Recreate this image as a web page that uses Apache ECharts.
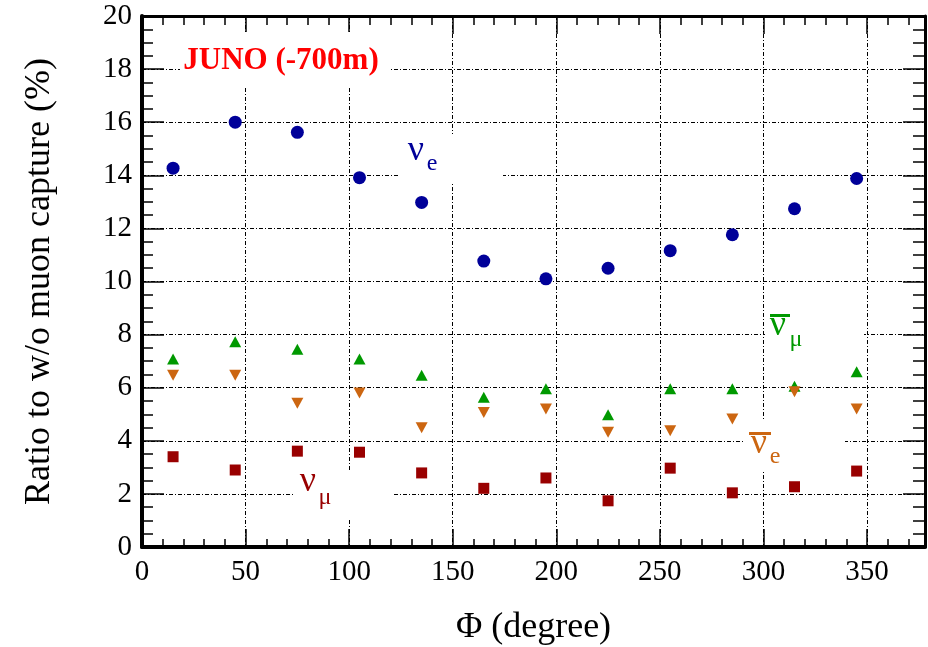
<!DOCTYPE html>
<html><head><meta charset="utf-8">
<script src="https://cdn.jsdelivr.net/npm/echarts@6/dist/echarts.min.js"></script>
<style>html,body{margin:0;padding:0;background:#fff}#c{width:928px;height:647px}</style>
</head><body><div id="c"></div><script>
const phi = [15, 45, 75, 105, 135, 165, 195, 225, 255, 285, 315, 345];
const nuE = [14.27, 16.0, 15.62, 13.91, 12.98, 10.77, 10.10, 10.50, 11.16, 11.76, 12.74, 13.88];
const antiNuMu = [7.08, 7.73, 7.45, 7.08, 6.47, 5.64, 5.96, 4.98, 5.96, 5.96, 6.05, 6.60];
const antiNuE = [6.47, 6.47, 5.41, 5.80, 4.49, 5.07, 5.20, 4.32, 4.38, 4.82, 5.85, 5.20];
const nuMu = [3.40, 2.90, 3.61, 3.57, 2.79, 2.21, 2.60, 1.74, 2.97, 2.04, 2.27, 2.86];
const xName = 'Φ (degree)';
const yName = 'Ratio to w/o muon capture (%)';
const title = 'JUNO (-700m)';

const FF = 'Liberation Serif';
const pair = (xs, ys) => xs.map((x, i) => [x, ys[i]]);
const grid = '#000';
const baseAxis = {
  type: 'value',
  axisLine: { show: true, onZero: false, lineStyle: { color: '#000', width: 3 } },
  axisTick: { show: true, inside: true, lineStyle: { color: '#000', width: 1.5 } },
  minorTick: { show: true, lineStyle: { color: '#000', width: 1.5 } },
  splitLine: { show: false },
  axisLabel: { show: false }
};
const mainLine = { show: true, onZero: false, lineStyle: { color: '#000', width: 4 } };
const chart = echarts.init(document.getElementById('c'));
chart.setOption({
  backgroundColor: '#fff',
  animation: false,
  textStyle: { fontFamily: FF },
  grid: { left: 142, top: 16, right: 3, bottom: 100, containLabel: false, outerBoundsMode: 'none' },
  xAxis: [
    Object.assign({}, baseAxis, {
      min: 0, max: 378, interval: 50, position: 'bottom',
      axisLine: mainLine,
      axisTick: Object.assign({}, baseAxis.axisTick, { length: 18 }),
      minorTick: Object.assign({}, baseAxis.minorTick, { splitNumber: 5, length: 8 }),
      axisLabel: { show: true, color: '#000', fontFamily: FF, fontSize: 29, margin: 11, showMaxLabel: false },
      splitLine: { show: true, lineStyle: { color: grid, width: 1, type: [4, 2, 1, 2] } },
      name: xName, nameLocation: 'middle', nameGap: 63,
      nameTextStyle: { color: '#000', fontFamily: FF, fontSize: 36 }
    }),
    Object.assign({}, baseAxis, {
      min: 0, max: 378, interval: 50, position: 'top',
      axisTick: Object.assign({}, baseAxis.axisTick, { length: 18 }),
      minorTick: Object.assign({}, baseAxis.minorTick, { splitNumber: 5, length: 9 })
    })
  ],
  yAxis: [
    Object.assign({}, baseAxis, {
      min: 0, max: 20, interval: 2, position: 'left',
      axisLine: mainLine,
      axisTick: Object.assign({}, baseAxis.axisTick, { length: 22 }),
      minorTick: Object.assign({}, baseAxis.minorTick, { splitNumber: 4, length: 11 }),
      axisLabel: { show: true, color: '#000', fontFamily: FF, fontSize: 29, margin: 10, padding: [4, 0, 0, 0] },
      splitLine: { show: true, lineStyle: { color: grid, width: 1, type: [4, 2, 1, 2] } },
      name: yName, nameLocation: 'middle', nameGap: 84,
      nameTextStyle: { color: '#000', fontFamily: FF, fontSize: 36 }
    }),
    Object.assign({}, baseAxis, {
      min: 0, max: 20, interval: 2, position: 'right',
      axisTick: Object.assign({}, baseAxis.axisTick, { length: 22 }),
      minorTick: Object.assign({}, baseAxis.minorTick, { splitNumber: 4, length: 12 })
    })
  ],
  series: [
    { type: 'scatter', name: 'nu_e', data: pair(phi, nuE), symbol: 'circle', symbolSize: 13,
      itemStyle: { color: '#000099', opacity: 1 }, z: 5 },
    { type: 'scatter', name: 'anti_nu_mu', data: pair(phi, antiNuMu), symbol: 'triangle', symbolSize: [12, 11],
      itemStyle: { color: '#009900', opacity: 1 }, z: 5 },
    { type: 'scatter', name: 'anti_nu_e', data: pair(phi, antiNuE), symbol: 'triangle', symbolRotate: 180, symbolSize: [12, 11],
      itemStyle: { color: '#cc6611', opacity: 1 }, z: 5 },
    { type: 'scatter', name: 'nu_mu', data: pair(phi, nuMu), symbol: 'rect', symbolSize: 11,
      itemStyle: { color: '#990000', opacity: 1 }, z: 5 }
  ],
  graphic: [
    { type: 'rect', z: 3, shape: { x: 180, y: 32, width: 211, height: 54 }, style: { fill: '#fff' } },
    { type: 'text', z: 4, x: 281, y: 61, style: { text: title, fill: '#ff0000', fontFamily: FF, fontWeight: 'bold', fontSize: 31, align: 'center', verticalAlign: 'middle' } },

    { type: 'rect', z: 3, shape: { x: 400, y: 134, width: 103, height: 50 }, style: { fill: '#fff' } },
    { type: 'text', z: 4, x: 416, y: 151, style: { text: 'ν', fill: '#000099', fontFamily: FF, fontSize: 36, align: 'center', verticalAlign: 'middle' } },
    { type: 'text', z: 4, x: 432, y: 164, style: { text: 'e', fill: '#000099', fontFamily: FF, fontSize: 24, align: 'center', verticalAlign: 'middle' } },

    { type: 'rect', z: 3, shape: { x: 293, y: 470, width: 100, height: 50 }, style: { fill: '#fff' } },
    { type: 'text', z: 4, x: 308, y: 482, style: { text: 'ν', fill: '#990000', fontFamily: FF, fontSize: 36, align: 'center', verticalAlign: 'middle' } },
    { type: 'text', z: 4, x: 325, y: 498, style: { text: 'μ', fill: '#990000', fontFamily: FF, fontSize: 24, align: 'center', verticalAlign: 'middle' } },

    { type: 'rect', z: 3, shape: { x: 765, y: 305, width: 99, height: 57 }, style: { fill: '#fff' } },
    { type: 'rect', z: 4, shape: { x: 770, y: 314, width: 20, height: 3 }, style: { fill: '#009900' } },
    { type: 'text', z: 4, x: 778, y: 326, style: { text: 'ν', fill: '#009900', fontFamily: FF, fontSize: 36, align: 'center', verticalAlign: 'middle' } },
    { type: 'text', z: 4, x: 796, y: 340, style: { text: 'μ', fill: '#009900', fontFamily: FF, fontSize: 24, align: 'center', verticalAlign: 'middle' } },

    { type: 'rect', z: 3, shape: { x: 743, y: 420, width: 102, height: 50 }, style: { fill: '#fff' } },
    { type: 'rect', z: 4, shape: { x: 749, y: 432, width: 22, height: 3 }, style: { fill: '#cc6611' } },
    { type: 'text', z: 4, x: 759, y: 444, style: { text: 'ν', fill: '#cc6611', fontFamily: FF, fontSize: 36, align: 'center', verticalAlign: 'middle' } },
    { type: 'text', z: 4, x: 775, y: 457, style: { text: 'e', fill: '#cc6611', fontFamily: FF, fontSize: 24, align: 'center', verticalAlign: 'middle' } }
  ]
});
</script></body></html>
